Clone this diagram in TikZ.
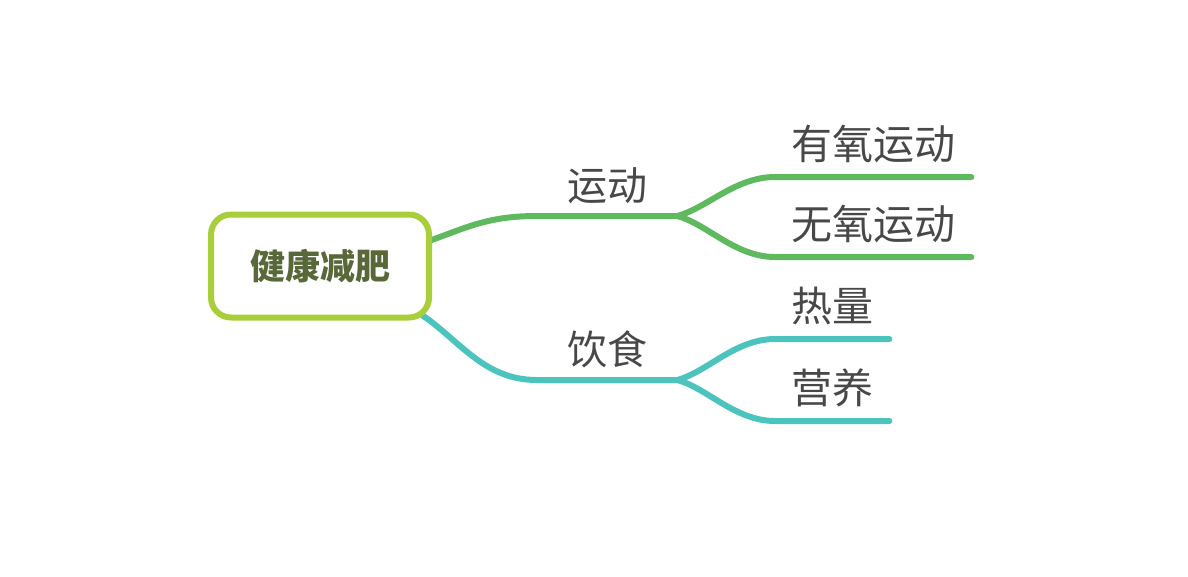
\documentclass[tikz,border=0pt]{standalone}
\usepackage{fontspec}
\newfontfamily\cjk{Noto Sans CJK SC}
\usepackage{tikz}
\usetikzlibrary{positioning,backgrounds}
\definecolor{rootgreen}{RGB}{168,207,58}
\definecolor{roottext}{RGB}{88,104,56}
\definecolor{branchgreen}{RGB}{95,185,95}
\definecolor{branchteal}{RGB}{75,196,190}
\definecolor{labelgray}{RGB}{72,72,72}

\begin{document}
\begin{tikzpicture}[x=1pt, y=-1pt,
  topic/.style={anchor=south, inner xsep=0pt, inner ysep=14.5pt, minimum width=140pt, text=labelgray, font=\cjk\fontsize{40}{40}\selectfont, text height=0.88em, text depth=0.12em},
  leaf/.style={anchor=south west, inner xsep=16pt, inner ysep=16pt, text=labelgray, font=\cjk\fontsize{41}{41}\selectfont, text height=0.88em, text depth=0.12em},
  branch/.style={line width=6pt, line cap=round, line join=round}]
  \useasboundingbox (0,0) rectangle (1188,576);

  % Root
  \node[draw=rootgreen, line width=6pt, rounded corners=20pt, fill=white, minimum width=218pt, minimum height=103pt, inner sep=0pt, text=roottext, font=\cjk\bfseries\fontsize{35}{35}\selectfont] (root) at (320,266) {健康减肥};

  % Topics
  \node[topic] (yundong) at (607,216) {运动};
  \node[topic] (yinshi) at (607,380) {饮食};

  % Subtopics
  \node[leaf] (youyang) at (775,177) {有氧运动};
  \node[leaf] (wuyang) at (775,257) {无氧运动};
  \node[leaf] (reliang) at (775,339) {热量};
  \node[leaf] (yingyang) at (775,421) {营养};

  \begin{scope}[on background layer]
    \draw[branch, branchgreen] ([xshift=-6pt, yshift=24pt]root.east) .. controls +(40,-14) and +(-50,0) .. (yundong.south west) -- (yundong.south east);
    \draw[branch, branchteal] ([xshift=-14pt, yshift=8pt]root.south east) .. controls +(40,25) and +(-55,0) .. (yinshi.south west) -- (yinshi.south east);
  \end{scope}

  \draw[branch, branchgreen] (yundong.south east) .. controls +(30,-8) and +(-40,0) .. (youyang.south west) -- (youyang.south east);
  \draw[branch, branchgreen] (yundong.south east) .. controls +(30,8) and +(-40,0) .. (wuyang.south west) -- (wuyang.south east);
  \draw[branch, branchteal] (yinshi.south east) .. controls +(30,-8) and +(-40,0) .. (reliang.south west) -- (reliang.south east);
  \draw[branch, branchteal] (yinshi.south east) .. controls +(30,8) and +(-40,0) .. (yingyang.south west) -- (yingyang.south east);
\end{tikzpicture}
\end{document}
